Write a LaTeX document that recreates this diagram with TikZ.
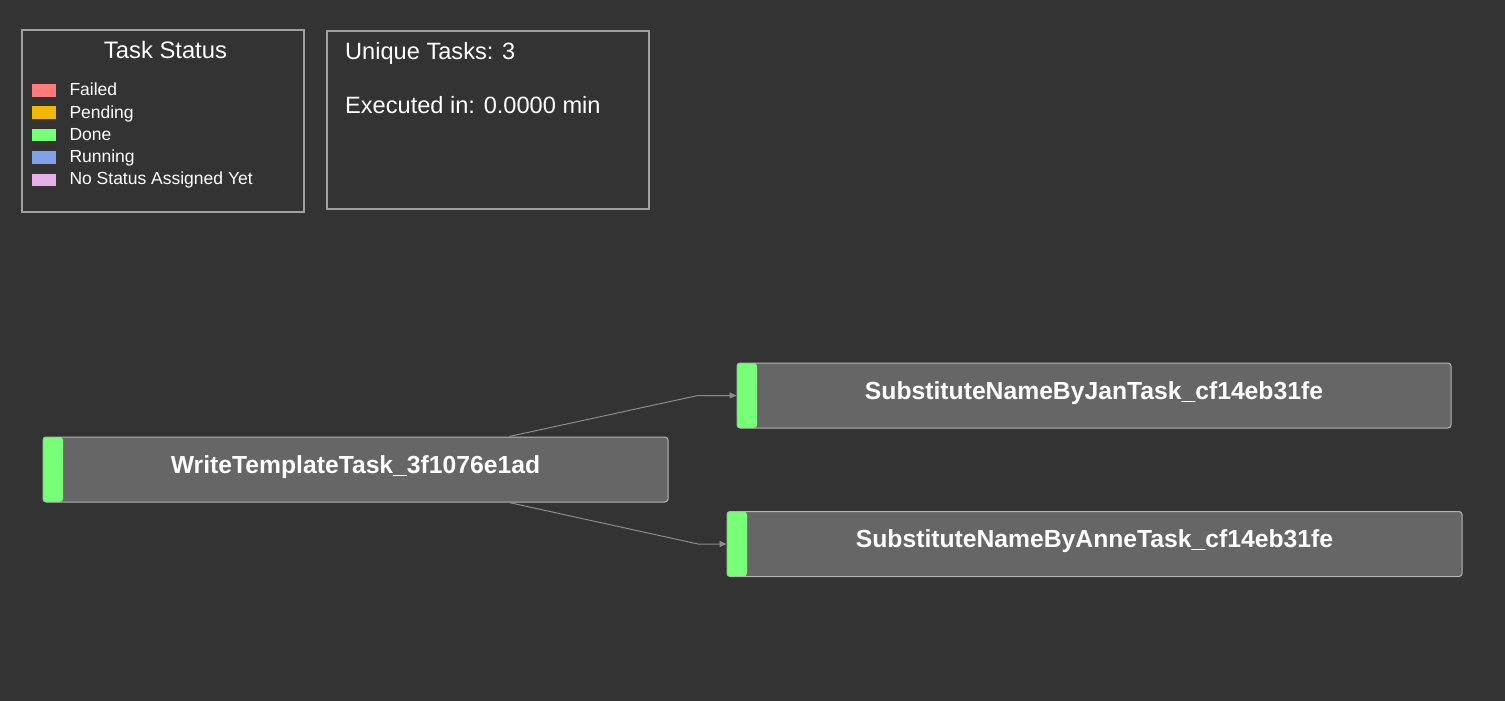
\documentclass[tikz,border=0pt]{standalone}
\usepackage{fontspec}
\setmainfont{Liberation Sans}
\usetikzlibrary{arrows.meta,positioning}
\definecolor{bgdark}{HTML}{333333}
\definecolor{boxline}{HTML}{A0A0A0}
\definecolor{taskfill}{HTML}{666666}
\definecolor{taskline}{HTML}{B4B4B4}
\definecolor{edgegray}{HTML}{8C8C8C}
\definecolor{failed}{HTML}{FF7B7B}
\definecolor{pending}{HTML}{F0B800}
\definecolor{done}{HTML}{77FF77}
\definecolor{running}{HTML}{80A0E8}
\definecolor{nostatus}{HTML}{E8B0E8}
\begin{document}
\begin{tikzpicture}
		[x=1pt, y=-1pt,
		panel/.style ={rectangle, draw=boxline, line width=1.5pt, inner sep=0pt},
		swatch/.style ={rectangle, inner sep=0pt, minimum width=24pt, minimum height=12.5pt},
		item/.style ={anchor=base west, inner sep=0pt, text=white, font=\fontsize{17.5}{19}\selectfont},
		info/.style ={anchor=base west, inner sep=0pt, text=white, font=\fontsize{23.6}{26}\selectfont},
		task/.style ={rectangle, draw=taskline, fill=taskfill, rounded corners=3pt, line width=1pt,
		minimum height=65pt, text height=7.6pt, text depth=0pt, text=white, font=\bfseries\fontsize{24.7}{27}\selectfont,
		path picture={\fill[done] (path picture bounding box.north west) rectangle ([xshift=20pt]path picture bounding box.south west);}},
		edge/.style ={draw=edgegray, line width=1pt, -{Triangle[length=7pt,width=6pt]}},
		]

		\fill[bgdark] (0,0) rectangle (1505,701);
		\useasboundingbox (0,0) rectangle (1505,701);

		% legend
		\draw (163,121) node[panel, minimum width=282pt, minimum height=182pt] (L) {};
		\draw (165.5,59) node[anchor=base, inner sep=0pt, text=white, font=\fontsize{23.8}{26}\selectfont] (LT) {Task Status};
		\draw (44.2,90.3) node[swatch, fill=failed] (S1) {};
		\draw (44.2,112.7) node[swatch, fill=pending] (S2) {};
		\draw (44.2,135.1) node[swatch, fill=done] (S3) {};
		\draw (44.2,157.5) node[swatch, fill=running] (S4) {};
		\draw (44.2,180) node[swatch, fill=nostatus] (S5) {};
		\draw (69.3,95.7) node[item] (I1) {Failed};
		\draw (69.3,118) node[item] (I2) {Pending};
		\draw (69.3,140.3) node[item] (I3) {Done};
		\draw (69.3,162.5) node[item] (I4) {Running};
		\draw (69.3,184.8) node[item] (I5) {No Status Assigned Yet};

		% run info
		\draw (488,120) node[panel, minimum width=322pt, minimum height=178pt] (P) {};
		\draw (345,59.3) node[info] (P1) {Unique Tasks: 3};
		\draw (345,113.3) node[info] (P2) {Executed in: 0.0000 min};

		% tasks
		\draw (355.5,469.5) node[task, minimum width=625pt] (W) {WriteTemplateTask\_3f1076e1ad};
		\draw (1094,395.5) node[task, minimum width=714pt] (J) {SubstituteNameByJanTask\_cf14eb31fe};
		\draw (1094.5,544) node[task, minimum width=735pt] (A) {SubstituteNameByAnneTask\_cf14eb31fe};

		\coordinate (kj) at (698,395.5);
		\coordinate (ka) at (698,544);
		\draw[edge] ([xshift=153.5pt]W.north) -- (kj) -- (J.west);
		\draw[edge] ([xshift=153.5pt]W.south) -- (ka) -- (A.west);
	\end{tikzpicture}
\end{document}
